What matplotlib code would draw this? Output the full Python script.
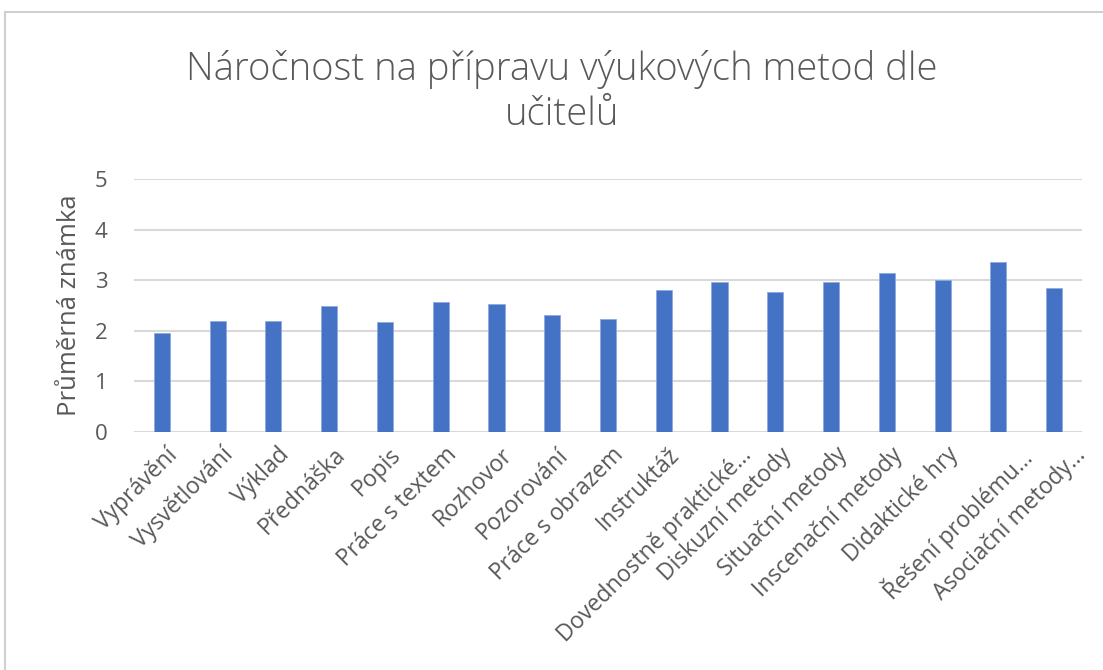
import matplotlib
matplotlib.use("Agg")
import matplotlib.pyplot as plt
from matplotlib.patches import Rectangle
from matplotlib.transforms import ScaledTranslation
import numpy as np

# Data
categories = [
    "Vyprávění", "Vysvětlování", "Výklad", "Přednáška", "Popis",
    "Práce s textem", "Rozhovor", "Pozorování", "Práce s obrazem",
    "Instruktáž", "Dovednostně praktické…", "Diskuzní metody",
    "Situační metody", "Inscenační metody", "Didaktické hry",
    "Řešení problému…", "Asociační metody…",
]
values = [1.95, 2.20, 2.20, 2.50, 2.18, 2.56, 2.53, 2.32, 2.24,
          2.80, 2.97, 2.76, 2.97, 3.15, 3.00, 3.36, 2.85]
y_ticks = [0, 1, 2, 3, 4, 5]

title = "Náročnost na přípravu výukových metod dle\nučitelů"
y_label = "Průměrná známka"

plt.rcParams['font.family'] = ['Open Sans', 'DejaVu Sans']
text_color = "#595959"
bar_color = "#4472C4"
grid_color = "#d9d9d9"

fig = plt.figure(figsize=(11.03, 6.70), dpi=100)
fig.patch.set_facecolor("white")

# outer chart frame (light gray border like the screenshot)
fig.patches.append(Rectangle((5 / 1103, -0.05), 1.2, 1 - 12 / 670 + 0.05,
                             transform=fig.transFigure, fill=False,
                             edgecolor="#d0d0d0", linewidth=1.5))

ax = fig.add_axes([134 / 1103, 1 - 432 / 670, 948 / 1103, 253 / 670])
x = np.arange(len(categories))
ax.bar(x, values, width=0.29, color=bar_color, zorder=3,
       edgecolor="#8faadc", linewidth=0.6)

ax.set_xlim(-0.5, len(categories) - 0.5)
ax.set_ylim(0, 5)
ax.set_yticks(y_ticks)
ax.set_yticklabels([str(t) for t in y_ticks], fontsize=16, color=text_color)
ax.yaxis.grid(True, color=grid_color, linewidth=1.5, zorder=0)
ax.tick_params(axis='both', length=0)
ax.tick_params(axis='y', pad=19)
for s in ax.spines.values():
    s.set_visible(False)

ax.set_xticks(x)
ax.set_xticklabels(categories, rotation=45, ha='right', va='top',
                   rotation_mode='anchor', fontsize=16.5, color=text_color)
ax.tick_params(axis='x', pad=8)
# Excel pushes the truncated ("…") labels further right than the others
for lbl in ax.get_xticklabels():
    dx = 20 if lbl.get_text().endswith("…") else 4
    lbl.set_transform(lbl.get_transform() +
                      ScaledTranslation(dx / 100, 0, fig.dpi_scale_trans))

ax.set_ylabel(y_label, fontsize=18.5, color=text_color, labelpad=9)

fig.text(562 / 1103, 1 - 92 / 670, title, ha='center', va='center',
         fontsize=27.5, color=text_color, fontweight='light', linespacing=1.25)

fig.savefig("out.png", dpi=100, facecolor="white")
